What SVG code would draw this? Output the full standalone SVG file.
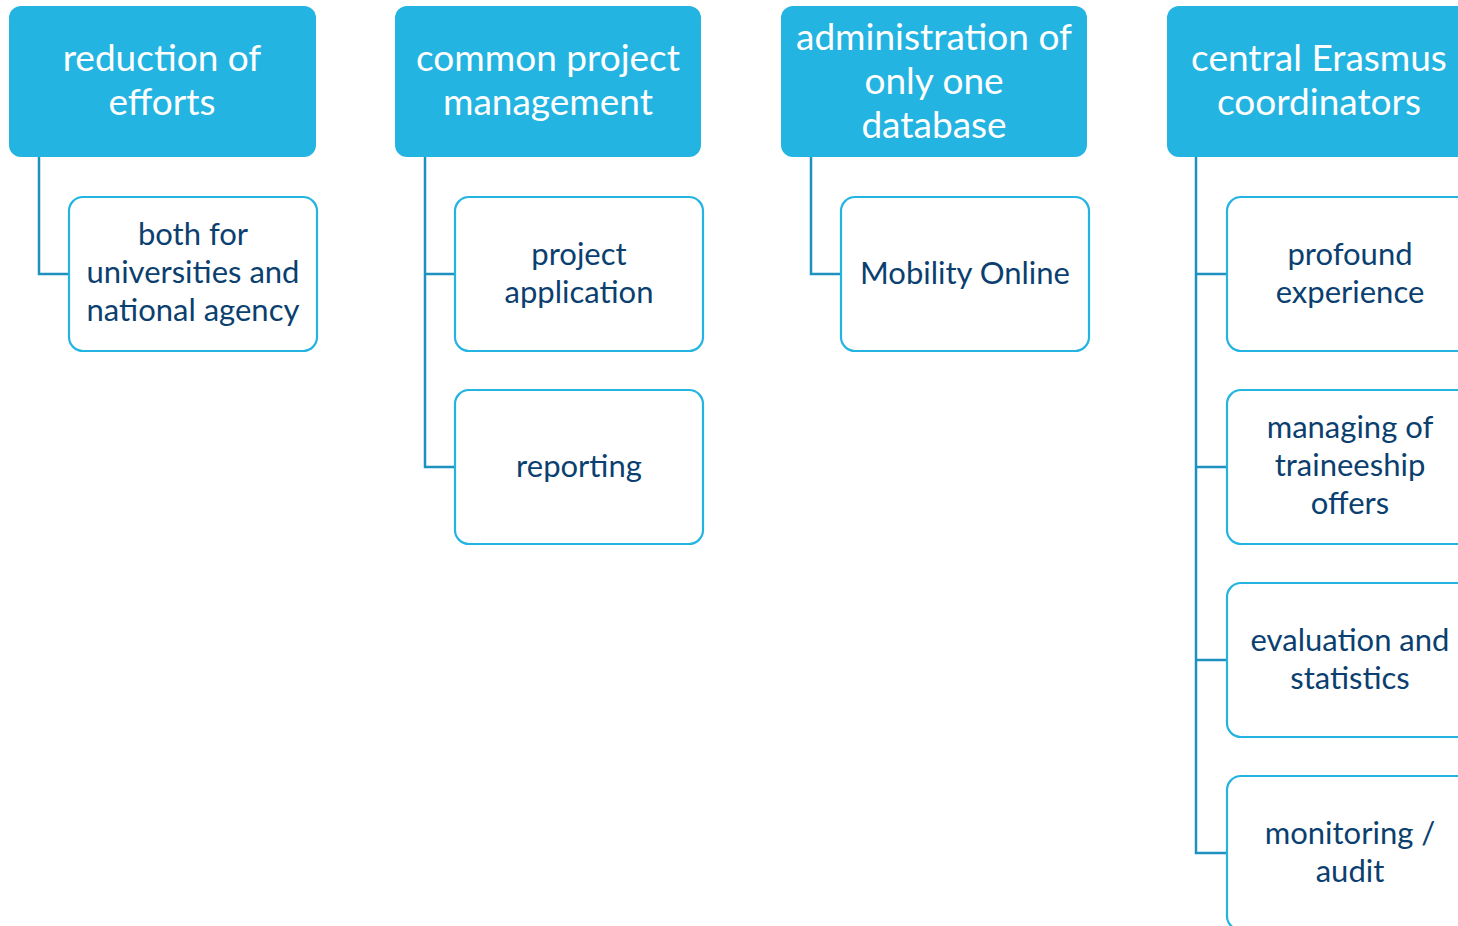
<svg xmlns="http://www.w3.org/2000/svg" width="1458" height="926" viewBox="0 0 1458 926">
<style>
.hd{fill:#23B4E2;}
.ch{fill:#FFFFFF;stroke:#23B4E2;stroke-width:2.2;}
.ht{font-family:Lato,"Liberation Sans",sans-serif;font-size:37px;fill:#FFFFFF;text-anchor:middle;}
.ct{font-family:Lato,"Liberation Sans",sans-serif;font-size:31px;fill:#0B3F70;text-anchor:middle;}
.cn{fill:none;stroke:#1E91BE;stroke-width:2.5;}
</style>
<rect width="1458" height="926" fill="#FFFFFF"/>
<g id="connectors">
<path class="cn" d="M39 157 V274 H69"/>
<path class="cn" d="M425 157 V467 H455 M425 274 H455"/>
<path class="cn" d="M811 157 V274 H841"/>
<path class="cn" d="M1196 157 V853 H1227 M1196 274 H1227 M1196 467 H1227 M1196 660 H1227"/>
</g>
<g id="h1"><rect class="hd" x="9" y="6" width="307" height="151" rx="12"/>
<text class="ht" x="162" y="71">reduction of</text><text class="ht" x="162" y="115">efforts</text></g>
<g id="h2"><rect class="hd" x="395" y="6" width="306" height="151" rx="12"/>
<text class="ht" x="548" y="71">common project</text><text class="ht" x="548" y="115">management</text></g>
<g id="h3"><rect class="hd" x="781" y="6" width="306" height="151" rx="12"/>
<text class="ht" x="934" y="50">administration of</text><text class="ht" x="934" y="94">only one</text><text class="ht" x="934" y="138">database</text></g>
<g id="h4"><rect class="hd" x="1167" y="6" width="306" height="151" rx="12"/>
<text class="ht" x="1319" y="71">central Erasmus</text><text class="ht" x="1319" y="115">coordinators</text></g>
<g id="c1"><rect class="ch" x="69" y="197" width="248" height="154" rx="14"/>
<text class="ct" x="193" y="245">both for</text><text class="ct" x="193" y="283">universities and</text><text class="ct" x="193" y="321">national agency</text></g>
<g id="c2"><rect class="ch" x="455" y="197" width="248" height="154" rx="14"/>
<text class="ct" x="579" y="265">project</text><text class="ct" x="579" y="303">application</text></g>
<g id="c3"><rect class="ch" x="455" y="390" width="248" height="154" rx="14"/>
<text class="ct" x="579" y="477">reporting</text></g>
<g id="c4"><rect class="ch" x="841" y="197" width="248" height="154" rx="14"/>
<text class="ct" x="965" y="284">Mobility Online</text></g>
<g id="c5"><rect class="ch" x="1227" y="197" width="248" height="154" rx="14"/>
<text class="ct" x="1350" y="265">profound</text><text class="ct" x="1350" y="303">experience</text></g>
<g id="c6"><rect class="ch" x="1227" y="390" width="248" height="154" rx="14"/>
<text class="ct" x="1350" y="438">managing of</text><text class="ct" x="1350" y="476">traineeship</text><text class="ct" x="1350" y="514">offers</text></g>
<g id="c7"><rect class="ch" x="1227" y="583" width="248" height="154" rx="14"/>
<text class="ct" x="1350" y="651">evaluation and</text><text class="ct" x="1350" y="689">statistics</text></g>
<g id="c8"><rect class="ch" x="1227" y="776" width="248" height="154" rx="14"/>
<text class="ct" x="1350" y="844">monitoring /</text><text class="ct" x="1350" y="882">audit</text></g>
</svg>
